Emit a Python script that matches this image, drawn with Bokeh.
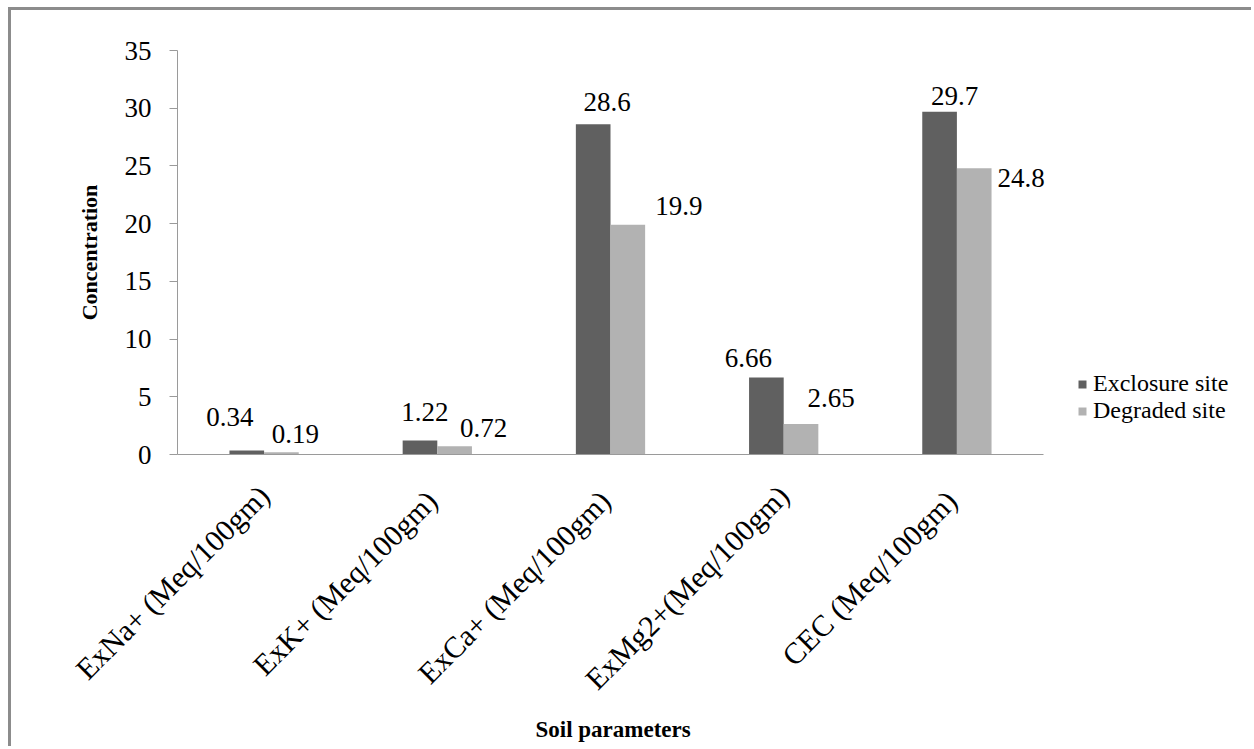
from bokeh.plotting import figure
from bokeh.models import ColumnDataSource, Legend, LegendItem, FixedTicker, Title
from bokeh.core.properties import value
from bokeh.embed import file_html
from bokeh.resources import INLINE
import math

# Soil parameters and the two sites
parameters = ["ExNa+ (Meq/100gm)", "ExK+  (Meq/100gm)", "ExCa+  (Meq/100gm)",
              "ExMg2+(Meq/100gm)", "CEC  (Meq/100gm)"]
exclosure = [0.34, 1.22, 28.6, 6.66, 29.7]
degraded = [0.19, 0.72, 19.9, 2.65, 24.8]
exclosure_text = ["0.34", "1.22", "28.6", "6.66", "29.7"]
degraded_text = ["0.19", "0.72", "19.9", "2.65", "24.8"]
y_ticks = [0, 5, 10, 15, 20, 25, 30, 35]

# hand-placed label nudges (pixels) relative to each bar's top centre
exc_dx = [-17, 5, 14, -18, 15]
exc_dy = [-34, -28, -22, -20, -16]
deg_dx = [14, 29, 51, 30, 47]
deg_dy = [-18, -18, -19, -26, 10]

FONT = "Liberation Serif"
DARK = "#606060"
LIGHT = "#b2b2b2"
AXIS = "#9a9a9a"

# each category occupies one unit; the extra room on the right holds the legend
n = len(parameters)
centers = [i + 0.5 for i in range(n)]
BAR_W = 0.2

W, H = 1243, 739
BORDER_L, BORDER_R = 166, 4
frame_w = W - BORDER_L - BORDER_R
axis_px = 866  # length of the category axis in pixels
x_end = n * frame_w / axis_px

p = figure(x_range=(0, x_end), y_range=(0, 35),
           width=W, height=H, output_backend="svg", toolbar_location=None,
           min_border_left=BORDER_L, min_border_right=BORDER_R,
           min_border_top=40, min_border_bottom=295)
p.styles = {"border-top": "3px solid #8c8c8c", "border-left": "3px solid #8c8c8c",
            "margin-top": "7px", "margin-left": "8px"}
p.outline_line_color = None
p.xgrid.grid_line_color = None
p.ygrid.grid_line_color = None

src = ColumnDataSource(dict(
    xe=[c - BAR_W / 2 for c in centers], xd=[c + BAR_W / 2 for c in centers],
    exc=exclosure, deg=degraded, exc_t=exclosure_text, deg_t=degraded_text,
    exc_dx=exc_dx, exc_dy=exc_dy, deg_dx=deg_dx, deg_dy=deg_dy))

r1 = p.vbar(x="xe", top="exc", width=BAR_W, source=src,
            fill_color=DARK, line_color=None)
r2 = p.vbar(x="xd", top="deg", width=BAR_W, source=src,
            fill_color=LIGHT, line_color=None)

p.text(x="xe", y="exc", text="exc_t", x_offset="exc_dx", y_offset="exc_dy",
       source=src, text_align="center", text_baseline="middle",
       text_font=value(FONT), text_font_size="27px", text_color="#000000")
p.text(x="xd", y="deg", text="deg_t", x_offset="deg_dx", y_offset="deg_dy",
       source=src, text_align="center", text_baseline="middle",
       text_font=value(FONT), text_font_size="27px", text_color="#000000")

# y axis
ya = p.yaxis[0]
ya.ticker = FixedTicker(ticks=y_ticks)
ya.axis_line_color = AXIS
ya.major_tick_line_color = AXIS
ya.major_tick_out = 8
ya.major_tick_in = 0
ya.minor_tick_line_color = None
ya.major_label_text_font = FONT
ya.major_label_text_font_size = "27px"
ya.major_label_text_color = "#000000"
ya.major_label_standoff = 18
ya.axis_label = "Concentration"
ya.axis_label_text_font = FONT
ya.axis_label_text_font_style = "bold"
ya.axis_label_text_font_size = "22px"
ya.axis_label_text_color = "#000000"
ya.axis_label_standoff = 20

# x axis: category names at the group centres, line only under the groups
xa = p.xaxis[0]
xa.ticker = FixedTicker(ticks=centers)
xa.major_label_overrides = {c: name for c, name in zip(centers, parameters)}
xa.bounds = (0, n)
xa.axis_line_color = AXIS
xa.major_tick_line_color = None
xa.minor_tick_line_color = None
xa.major_label_orientation = math.pi / 4
xa.major_label_text_font = FONT
xa.major_label_text_font_size = "30px"
xa.major_label_text_color = "#000000"
xa.major_label_standoff = 30

# axis title centred under the category axis (not under the whole frame)
xtitle = Title(text="Soil parameters", align="left", offset=358,
               text_font=FONT, text_font_style="bold", text_font_size="23px",
               text_color="#000000", standoff=8)
p.add_layout(xtitle, "below")

legend = Legend(items=[LegendItem(label="Exclosure site", renderers=[r1]),
                       LegendItem(label="Degraded site", renderers=[r2])],
                location=(900, 30), orientation="vertical",
                glyph_width=10, glyph_height=10, label_standoff=6,
                spacing=0, label_height=26, padding=0, margin=0,
                border_line_color=None, background_fill_alpha=0,
                label_text_font=FONT, label_text_font_size="24px",
                label_text_color="#000000")
p.add_layout(legend, "center")

open("out.html", "w").write(file_html(p, INLINE))
